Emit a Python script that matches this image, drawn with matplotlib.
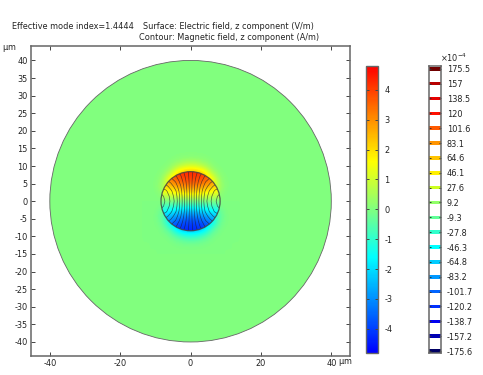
import numpy as np
import matplotlib
matplotlib.use("Agg")
import matplotlib.pyplot as plt
from matplotlib.colors import LinearSegmentedColormap, Normalize
from matplotlib.cm import ScalarMappable
from matplotlib.patches import Circle

W, H = 483, 375
title_left = "Effective mode index=1.4444"
title_surface = "Surface: Electric field, z component (V/m)"
title_contour = "Contour: Magnetic field, z component (A/m)"
x_ticks = [-40, -20, 0, 20, 40]
y_ticks = [40, 35, 30, 25, 20, 15, 10, 5, 0, -5, -10, -15, -20, -25, -30, -35, -40]
cbar_ticks = [-4, -3, -2, -1, 0, 1, 2, 3, 4]
E_limit = 4.8
clad_radius = 40.0
core_radius = 8.4

# H contour levels, units of 1e-4 A/m, as printed in the legend
levels = [175.5, 157, 138.5, 120, 101.6, 83.1, 64.6, 46.1, 27.6, 9.2,
          -9.3, -27.8, -46.3, -64.8, -83.2, -101.7, -120.2, -138.7, -157.2, -175.6]
level_labels = ["175.5", "157", "138.5", "120", "101.6", "83.1", "64.6", "46.1", "27.6", "9.2",
                "-9.3", "-27.8", "-46.3", "-64.8", "-83.2", "-101.7", "-120.2", "-138.7", "-157.2", "-175.6"]
level_colors = ["#700000", "#b80000", "#e60000", "#ff1000", "#ff5a00", "#ff9400", "#ffc400",
                "#fff000", "#ccff20", "#90ff68", "#60ff98", "#30ffcc", "#00ffff", "#00ccff",
                "#0098ff", "#0064ff", "#0030ff", "#0000f0", "#0000b4", "#000064"]

# Electric field read by eye: quadrant y>=0, x>=0. Rows run y high to 0, columns x 0 to high.
E_clad_quadrant = [  # y = 14..0 step 2, x = 0..14 step 2
    [0.01, 0.01, 0.01, 0.00, 0.00, 0.00, 0.00, 0.00],
    [0.15, 0.12, 0.07, 0.02, 0.00, 0.00, 0.00, 0.00],
    [1.00, 0.85, 0.45, 0.12, 0.02, 0.00, 0.00, 0.00],
    [2.70, 2.60, 1.90, 0.50, 0.10, 0.01, 0.00, 0.00],
    [2.70, 2.70, 2.50, 1.90, 0.25, 0.04, 0.00, 0.00],
    [2.20, 2.20, 2.00, 1.60, 0.50, 0.03, 0.00, 0.00],
    [1.00, 1.00, 0.90, 0.70, 0.15, 0.01, 0.00, 0.00],
    [0.00, 0.00, 0.00, 0.00, 0.00, 0.00, 0.00, 0.00],
]
E_core_quadrant = [  # y = 10..0 step 2, x = 0..10 step 2
    [4.6, 4.6, 4.5, 4.3, 4.1, 3.9],
    [4.3, 4.2, 4.1, 3.8, 3.3, 3.0],
    [4.0, 3.9, 3.7, 3.2, 2.7, 2.5],
    [3.1, 3.0, 2.7, 2.3, 2.0, 1.9],
    [1.7, 1.6, 1.4, 1.2, 1.0, 1.0],
    [0.0, 0.0, 0.0, 0.0, 0.0, 0.0],
]
# Magnetic field read by eye (1e-4 A/m): rows y = 0..8.4, columns x = 0..8.4, step 1.4
H_quadrant = [
    [0, 38, 76, 113, 135, 155, 165],
    [0, 38, 75, 110, 132, 152, 163],
    [0, 37, 72, 104, 125, 143, 152],
    [0, 34, 66, 93, 112, 127, 134],
    [0, 30, 58, 81, 97, 108, 113],
    [0, 25, 49, 68, 80, 88, 91],
    [0, 20, 39, 54, 64, 72, 75],
]
H_step = 1.4

FRAME = "#666666"
TEXT = "#222222"
FS = 5.9
cmap = LinearSegmentedColormap.from_list("rainbow_light", [(0, "#0000ff"), (1/3, "#00ffff"), (2/3, "#ffff00"), (1, "#ff0000")])
norm = Normalize(-E_limit, E_limit)
plt.rcParams.update({"font.family": "DejaVu Sans", "font.size": FS, "text.color": TEXT,
                     "mathtext.default": "regular", "axes.unicode_minus": False})


def px_axes(fig, left, top, right, bottom):
    return fig.add_axes([left / W, 1 - bottom / H, (right - left) / W, (bottom - top) / H])


def style(ax):
    for s in ax.spines.values():
        s.set_color(FRAME)
        s.set_linewidth(1.1)


def mirror_E(q):
    q = np.asarray(q, float)             # rows y high..0, columns x 0..high
    right = np.hstack([q[:, :0:-1], q])  # mirror about x = 0 (even)
    return np.vstack([right, -right[-2::-1]])  # mirror about y = 0 (odd)


def mirror_H(q):
    q = np.asarray(q, float)             # rows y 0..high, columns x 0..high
    full = np.hstack([-q[:, :0:-1], q])  # odd in x
    return np.vstack([full[:0:-1], full])


fig = plt.figure(figsize=(W / 100, H / 100), dpi=100)
ax = px_axes(fig, 31, 46, 350.3, 355.7)
style(ax)
ax.set_facecolor("white")

ax.add_patch(Circle((0, 0), clad_radius, fc=cmap(norm(0.0)), ec="#666666", lw=0.6, zorder=1))
ax.imshow(mirror_E(E_clad_quadrant), extent=(-15, 15, -15, 15), cmap=cmap, norm=norm,
          interpolation="bicubic", zorder=2, aspect="auto")
core_im = ax.imshow(mirror_E(E_core_quadrant), extent=(-11, 11, -11, 11), cmap=cmap, norm=norm,
                    interpolation="bicubic", zorder=3, aspect="auto")
core_im.set_clip_path(Circle((0, 0), core_radius, transform=ax.transData))

Hg = mirror_H(H_quadrant)
n = (Hg.shape[0] - 1) // 2
gx = np.arange(-n, n + 1) * H_step
cs = ax.contour(gx, gx, Hg, levels=sorted(levels), colors="#222233", linewidths=0.5, alpha=0.7,
                linestyles="solid", zorder=4)
cs.set_clip_path(Circle((0, 0), core_radius, transform=ax.transData))
ax.add_patch(Circle((0, 0), core_radius, fc="none", ec="#444444", lw=0.9, alpha=0.85, zorder=5))

ax.set_xlim(-45.35, 45.4)
ax.set_ylim(-43.9, 44.1)
ax.set_xticks(x_ticks)
ax.set_yticks(y_ticks)
ax.tick_params(direction="in", top=True, right=True, length=3, width=0.7, color="#444444",
               labelsize=FS, labelcolor=TEXT, pad=2.5)

# colour bar of the surface
cax = px_axes(fig, 366, 66, 378, 352.7)
cbar = fig.colorbar(ScalarMappable(norm=norm, cmap=cmap), cax=cax)
cbar.set_ticks(cbar_ticks)
cax.tick_params(direction="in", left=True, right=True, length=2, width=0.7, color="#444444",
                labelsize=FS, labelcolor=TEXT, pad=4.5)
cbar.outline.set_edgecolor(FRAME)
cbar.outline.set_linewidth(1.0)

# legend of the contour levels
lax = px_axes(fig, 429, 66, 440.5, 352.7)
style(lax)
lax.set_xlim(0, 1)
lax.set_ylim(-177.7, 178.9)
lax.barh(levels, [1] * len(levels), height=4.5, color=level_colors, linewidth=0)
lax.set_xticks([])
lax.set_yticks(levels)
lax.set_yticklabels(level_labels)
lax.yaxis.tick_right()
lax.tick_params(direction="in", left=True, right=True, length=1.5, width=0.7, color="#333333",
                labelsize=FS, labelcolor=TEXT, pad=4.5)

fig.text(12 / W, 1 - 26.5 / H, title_left, ha="left", va="center", fontsize=FS)
fig.text(143 / W, 1 - 26.5 / H, title_surface, ha="left", va="center", fontsize=FS)
fig.text(139 / W, 1 - 37.5 / H, title_contour, ha="left", va="center", fontsize=FS)
fig.text(2 / W, 1 - 48.5 / H, r"$\mu$m", ha="left", va="center", fontsize=FS)
fig.text(338 / W, 1 - 362.5 / H, r"$\mu$m", ha="left", va="center", fontsize=FS)
fig.text(440.5 / W, 1 - 58 / H, r"$\times 10^{-4}$", ha="left", va="center", fontsize=FS)

fig.savefig("out.png", dpi=100)
